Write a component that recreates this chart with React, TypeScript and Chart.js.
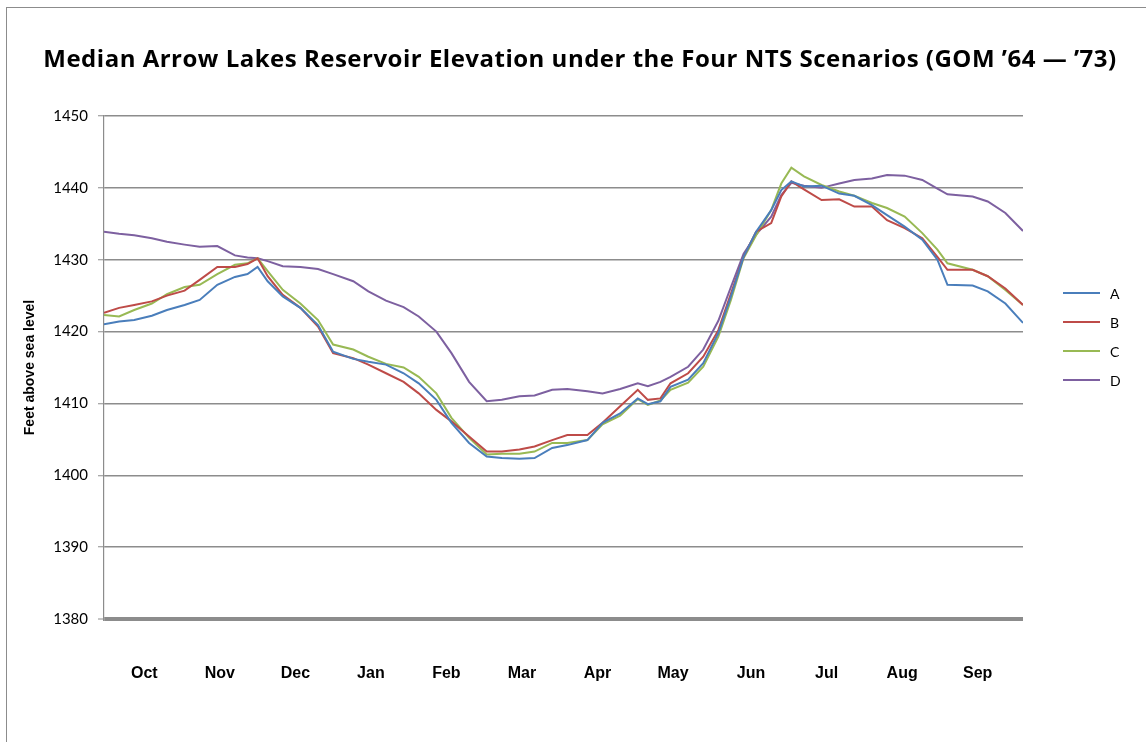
import React, { useEffect, useRef } from "react";
import { Chart, registerables } from "chart.js";

Chart.register(...registerables);

// Day of the water year (Oct 1 = day 0)
const days = [
  0, 6, 12, 19, 25, 32, 38, 45, 52, 57,
  61, 65, 71, 78, 85, 91, 99, 105, 112, 119,
  125, 132, 138, 145, 152, 158, 165, 171, 178, 184,
  192, 198, 205, 212, 216, 221, 225, 232, 238, 244,
  249, 254, 259, 265, 269, 273, 278, 285, 292, 298,
  305, 311, 318, 325, 331, 335, 345, 351, 358, 365,
];

const scenarioA = [
  1421.0, 1421.4, 1421.6, 1422.2, 1423.0, 1423.7, 1424.4, 1426.5, 1427.6, 1428.0,
  1429.0, 1427.0, 1424.9, 1423.3, 1420.9, 1417.2, 1416.2, 1415.8, 1415.4, 1414.2,
  1412.8, 1410.5, 1407.3, 1404.5, 1402.6, 1402.4, 1402.3, 1402.4, 1403.8, 1404.2,
  1404.9, 1407.3, 1408.6, 1410.7, 1409.9, 1410.3, 1412.3, 1413.3, 1415.6, 1419.8,
  1424.9, 1430.4, 1433.9, 1436.9, 1439.7, 1440.9, 1440.2, 1440.3, 1439.2, 1438.9,
  1437.6, 1436.2, 1434.6, 1432.8, 1430.0, 1426.5, 1426.4, 1425.6, 1423.9, 1421.2,
];

const scenarioB = [
  1422.6, 1423.3, 1423.7, 1424.2, 1425.0, 1425.7, 1427.2, 1429.0, 1429.0, 1429.4,
  1430.2, 1427.7, 1425.1, 1423.3, 1420.7, 1417.0, 1416.3, 1415.4, 1414.2, 1413.0,
  1411.4, 1409.1, 1407.5, 1405.4, 1403.3, 1403.3, 1403.6, 1404.0, 1404.9, 1405.6,
  1405.6, 1407.3, 1409.6, 1411.9, 1410.5, 1410.7, 1412.8, 1414.2, 1416.5, 1420.2,
  1425.3, 1430.4, 1433.9, 1435.1, 1438.8, 1440.9, 1439.8, 1438.3, 1438.4, 1437.4,
  1437.4, 1435.5, 1434.4, 1433.0, 1430.4, 1428.6, 1428.6, 1427.7, 1426.0, 1423.7,
];

const scenarioC = [
  1422.3, 1422.1, 1423.0, 1423.9, 1425.2, 1426.2, 1426.5, 1428.0, 1429.3, 1429.5,
  1430.2, 1428.4, 1425.8, 1423.9, 1421.6, 1418.2, 1417.5, 1416.5, 1415.5, 1415.0,
  1413.7, 1411.4, 1408.0, 1405.2, 1402.9, 1403.0, 1403.0, 1403.3, 1404.5, 1404.5,
  1404.9, 1407.1, 1408.3, 1410.6, 1409.8, 1410.4, 1411.9, 1412.9, 1415.1, 1419.3,
  1424.4, 1430.2, 1433.4, 1436.9, 1440.6, 1442.8, 1441.6, 1440.4, 1439.5, 1438.9,
  1437.9, 1437.2, 1436.0, 1433.7, 1431.4, 1429.5, 1428.6, 1427.7, 1425.8, 1423.7,
];

const scenarioD = [
  1433.9, 1433.6, 1433.4, 1433.0, 1432.5, 1432.1, 1431.8, 1431.9, 1430.6, 1430.3,
  1430.2, 1429.8, 1429.1, 1429.0, 1428.7, 1428.0, 1427.0, 1425.6, 1424.3, 1423.4,
  1422.1, 1420.0, 1417.0, 1413.0, 1410.3, 1410.5, 1411.0, 1411.1, 1411.9, 1412.0,
  1411.7, 1411.4, 1412.0, 1412.8, 1412.4, 1413.0, 1413.7, 1415.1, 1417.5, 1421.5,
  1426.2, 1430.8, 1433.5, 1436.0, 1439.0, 1440.7, 1440.3, 1440.0, 1440.6, 1441.1,
  1441.3, 1441.8, 1441.7, 1441.1, 1439.9, 1439.1, 1438.8, 1438.1, 1436.5, 1434.0,
];

const seriesLabels = ["A", "B", "C", "D"];
const seriesColors = ["#4a7ebb", "#be4b48", "#98b954", "#7d60a0"];

const monthLabels = ["Oct", "Nov", "Dec", "Jan", "Feb", "Mar", "Apr", "May", "Jun", "Jul", "Aug", "Sep"];
const monthTickDays = [16, 46, 76, 106, 136, 166, 196, 226, 257, 287, 317, 347];

const yTicks = [1380, 1390, 1400, 1410, 1420, 1430, 1440, 1450];

const titleText = "Median Arrow Lakes Reservoir Elevation under the Four NTS Scenarios (GOM \u201964 \u2014 \u201973)";

const GRID = "#8c8c8c";

// Chart heading, centred over the whole figure (plot plus legend)
const heading = {
  id: "heading",
  afterDraw(chart: any) {
    const { ctx } = chart;
    ctx.save();
    ctx.fillStyle = "#000";
    ctx.font = "bold 24px 'Open Sans', Lato, sans-serif";
    if ("letterSpacing" in ctx) (ctx as any).letterSpacing = "0.5px";
    ctx.textAlign = "center";
    ctx.textBaseline = "middle";
    ctx.fillText(titleText, 580, 60);
    ctx.restore();
  },
};

// Legend drawn to the right of the plot area
const sideLegend = {
  id: "sideLegend",
  afterDraw(chart: any) {
    const { ctx } = chart;
    ctx.save();
    chart.data.datasets.forEach((ds: any, i: number) => {
      const y = 293 + i * 29;
      ctx.strokeStyle = ds.borderColor;
      ctx.lineWidth = 2;
      ctx.beginPath();
      ctx.moveTo(1063, y);
      ctx.lineTo(1100, y);
      ctx.stroke();
      ctx.fillStyle = "#000";
      ctx.font = "14px Lato, 'Open Sans', sans-serif";
      ctx.textAlign = "left";
      ctx.textBaseline = "middle";
      ctx.fillText(ds.label, 1110, y + 1);
    });
    ctx.restore();
  },
};

export default function App() {
  const canvasRef = useRef<HTMLCanvasElement | null>(null);

  useEffect(() => {
    if (!canvasRef.current) return;
    const seriesValues = [scenarioA, scenarioB, scenarioC, scenarioD];
    const chart = new Chart(canvasRef.current, {
      type: "line",
      data: {
        datasets: seriesValues.map((vals, i) => ({
          label: seriesLabels[i],
          data: vals.map((v, j) => ({ x: days[j], y: v })),
          borderColor: seriesColors[i],
          backgroundColor: seriesColors[i],
          borderWidth: 2,
          pointRadius: 0,
          tension: 0,
          fill: false,
        })),
      },
      options: {
        responsive: false,
        animation: false,
        layout: { padding: { left: 0, right: 123, top: 116, bottom: 0 } },
        plugins: {
          legend: { display: false },
          tooltip: { enabled: false },
          title: { display: false },
        },
        scales: {
          x: {
            type: "linear",
            min: 0,
            max: 365,
            grid: { display: false, drawTicks: false },
            border: { display: false },
            afterBuildTicks: (scale: any) => {
              scale.ticks = monthTickDays.map((d) => ({ value: d }));
            },
            afterFit: (scale: any) => {
              scale.height = 123;
            },
            ticks: {
              autoSkip: false,
              maxRotation: 0,
              padding: 45,
              color: "#000",
              font: { family: "'Liberation Sans Narrow', 'Arial Narrow', 'Liberation Sans', sans-serif", size: 16, weight: "bold" },
              callback: (_v: any, i: number) => monthLabels[i],
            },
          },
          y: {
            min: 1380,
            max: 1450,
            afterBuildTicks: (scale: any) => {
              scale.ticks = yTicks.map((v) => ({ value: v }));
            },
            afterFit: (scale: any) => {
              scale.width = 104;
            },
            grid: {
              color: GRID,
              lineWidth: (c: any) => (c.tick && c.tick.value === 1380 ? 4 : 1.5),
              tickLength: 6,
              tickWidth: 1,
              tickColor: GRID,
            },
            border: { display: true, color: GRID, width: 1.2 },
            ticks: {
              padding: 10,
              color: "#000",
              font: { family: "Lato, 'Open Sans', sans-serif", size: 15 },
              callback: (v: any) => String(v),
            },
            title: {
              display: true,
              text: "Feet above sea level",
              color: "#000",
              font: { family: "'Liberation Sans', Arial, sans-serif", size: 14, weight: "bold" },
              padding: { top: 22, bottom: 0 },
            },
          },
        },
      },
      plugins: [heading, sideLegend],
    });
    return () => chart.destroy();
  }, []);

  return (
    <div style={{ position: "absolute", left: 0, top: 0, width: 1146, height: 742, background: "#fff", overflow: "hidden" }}>
      <div
        style={{
          position: "absolute",
          left: 6,
          top: 7,
          width: 1200,
          height: 800,
          borderLeft: "1px solid #8c8c8c",
          borderTop: "1px solid #8c8c8c",
        }}
      />
      <canvas ref={canvasRef} width={1146} height={742} style={{ position: "absolute", left: 0, top: 0 }} />
    </div>
  );
}
